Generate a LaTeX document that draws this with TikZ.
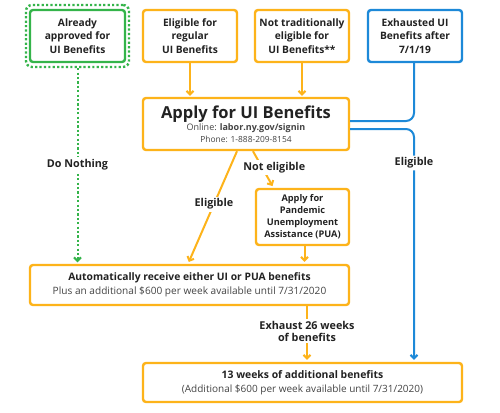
\documentclass[tikz,border=0pt]{standalone}
\usepackage{fontspec}
\setmainfont{Open Sans}
\usetikzlibrary{arrows.meta}
\definecolor{orng}{HTML}{FDB31A}
\definecolor{grn}{HTML}{34B44A}
\definecolor{blu}{HTML}{1D89D8}
\definecolor{txt}{HTML}{222222}
\definecolor{gtxt}{HTML}{444444}
\tikzset{
  box/.style={draw=#1, line width=2.4pt, rounded corners=3pt, fill=white, align=center,
    text=txt, inner sep=2pt, font=\bfseries\fontsize{10.2}{13.5}\selectfont},
  conn/.style={draw=#1, line width=2pt, -{Straight Barb[length=3.5pt,width=7pt,line width=2pt]}},
  lbl/.style={fill=white, text=txt, align=center, inner sep=2pt, font=\bfseries\fontsize{10.8}{11.5}\selectfont},
}
\begin{document}
\begin{tikzpicture}[x=1pt,y=-1pt]
\useasboundingbox[fill=white] (0,0) rectangle (500,412);
% top row
\node[draw=grn, line width=2.4pt, dash pattern=on 2.2pt off 2.2pt, rounded corners=6pt,
  minimum width=103pt, minimum height=62pt] (outer) at (77.5,36) {};
\node[box=grn, minimum width=95pt, minimum height=52pt] (already) at (77.5,36) {Already\\approved for\\UI Benefits};
\node[box=orng, minimum width=94pt, minimum height=52pt] (regular) at (190,36) {Eligible for\\regular\\UI Benefits};
\node[box=orng, minimum width=94pt, minimum height=52pt] (nottrad) at (302,36) {Not traditionally\\eligible for\\UI Benefits**};
\node[box=blu, minimum width=94pt, minimum height=52pt] (exh) at (415,36) {Exhausted UI\\Benefits after\\7/1/19};
% apply
\node[box=orng, minimum width=206pt, minimum height=52pt] (apply) at (246,124) {%
  {\fontsize{16.5}{18}\selectfont Apply for UI Benefits}\\[-1pt]
  {\color{gtxt}\mdseries\fontsize{9}{11}\selectfont Online: \textbf{labor.ny.gov/signin}}\\[-2pt]
  {\color{gtxt}\mdseries\fontsize{8.4}{10}\selectfont Phone: 1-888-209-8154}};
\node[box=orng, minimum width=93pt, minimum height=56pt, font=\bfseries\fontsize{9.2}{12}\selectfont] (pua) at (302.5,217) {Apply for\\Pandemic\\Unemployment\\Assistance (PUA)};
\node[box=orng, minimum width=319pt, minimum height=40pt] (auto) at (189.5,285) {%
  {\fontsize{10.3}{13}\selectfont Automatically receive either UI or PUA benefits}\\
  {\mdseries\color{gtxt}\fontsize{10.1}{12}\selectfont Plus an additional \$600 per week available until 7/31/2020}};
\node[box=orng, minimum width=319pt, minimum height=39pt] (weeks) at (302.5,382.5) {%
  {\fontsize{10.4}{13}\selectfont 13 weeks of additional benefits}\\
  {\mdseries\color{gtxt}\fontsize{10}{12}\selectfont (Additional \$600 per week available until 7/31/2020)}};
% connectors
\draw[conn=orng, shorten >=1pt] (regular.south) -- (regular.south |- apply.north);
\draw[conn=orng, shorten >=1pt] (nottrad.south) -- (nottrad.south |- apply.north);
\draw[conn=grn, dash pattern=on 2.2pt off 2.2pt, shorten >=1.5pt] (outer.south) -- (outer.south |- auto.north)
  node[lbl, pos=0.493] (donothing) {Do Nothing};
\draw[conn=orng, shorten >=2pt] ([xshift=-9pt]apply.south) -- ([xshift=-1.5pt]auto.north)
  node[lbl, pos=0.47] (elig1) {Eligible};
\draw[conn=orng, shorten >=2pt] ([xshift=7pt]apply.south) -- ([xshift=-29pt]pua.north)
  node[lbl, pos=0.45, xshift=12pt] (noteli) {Not eligible};
\draw[conn=orng, shorten >=2pt] ([xshift=2pt]pua.south) -- ([xshift=2pt]pua.south |- auto.north);
\draw[conn=orng, shorten >=2pt] ([xshift=117.5pt]auto.south) -- ([xshift=117.5pt]auto.south |- weeks.north)
  node[lbl, pos=0.45] (exhaust) {Exhaust 26 weeks\\of benefits};
\draw[draw=blu, line width=2pt, rounded corners=8pt] ([xshift=-1pt]exh.south) |- ([yshift=3pt]apply.east);
\draw[conn=blu, rounded corners=8pt, shorten >=2pt] ([yshift=-5pt]apply.east) -| ([xshift=-1pt]exh.south |- weeks.north)
  node[lbl, pos=0.573] (elig2) {Eligible};
\end{tikzpicture}
\end{document}
